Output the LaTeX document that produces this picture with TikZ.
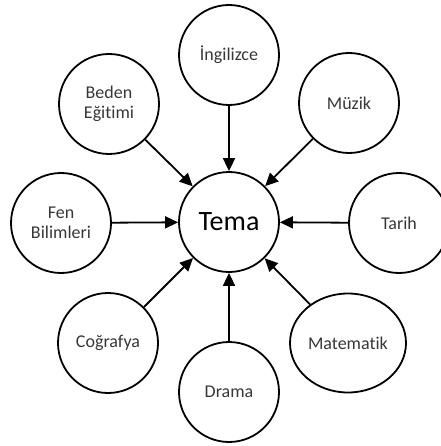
\documentclass[tikz,border=0pt]{standalone}
\usepackage{fontspec}
\setmainfont{Carlito}[Ligatures=NoCommon]
\usepackage{tikz}
\usetikzlibrary{arrows.meta,shapes.geometric}
\definecolor{labelgray}{RGB}{55,55,55}

\begin{document}
\begin{tikzpicture}[
  x=1pt, y=-1pt,
  font=\fontsize{18}{20}\selectfont,
  topic/.style={draw, circle, line width=1.8pt, minimum size=100pt, inner sep=0pt, align=center, text=labelgray},
  theme/.style={topic, font=\fontsize{28}{32}\selectfont, text=black},
  arr/.style={-{Triangle[length=13pt, width=12pt]}, line width=1.8pt}
]
\useasboundingbox (0,0) rectangle (440,446);
% center
\node[theme] (tema) at (229,222) {Tema};
% subjects around it
\node[topic] (ingilizce) at (229,55) {İngilizce};
\node[topic] (muzik) at (349,103) {Müzik};
\node[topic] (tarih) at (399,223) {Tarih};
\node[topic, ellipse, minimum width=116pt, minimum height=99pt] (matematik) at (348,343) {Matematik};
\node[topic] (drama) at (229,392) {Drama};
\node[topic] (cografya) at (108,343) {Coğrafya};
\node[topic] (fen) at (61,223) {Fen\\Bilimleri};
\node[topic] (beden) at (109,104) {Beden\\Eğitimi};
% arrows into the theme
\foreach \s in {ingilizce,muzik,tarih,matematik,drama,cografya,fen,beden} {
  \draw[arr] (\s) -- (tema);
}
\end{tikzpicture}
\end{document}
